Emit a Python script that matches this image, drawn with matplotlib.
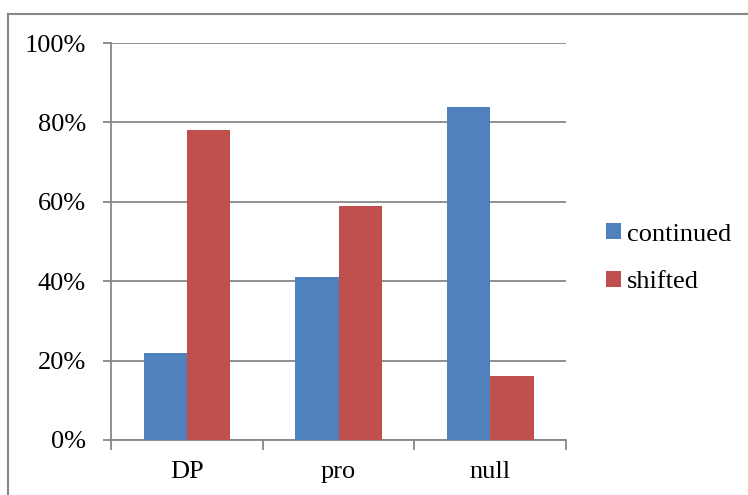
import matplotlib.pyplot as plt
import numpy as np
from matplotlib.lines import Line2D

categories = ["DP", "pro", "null"]
continued = [22, 41, 84]
shifted = [78, 59, 16]
yticks = [0, 20, 40, 60, 80, 100]
ytick_labels = ["0%", "20%", "40%", "60%", "80%", "100%"]

plt.rcParams['font.family'] = ['Liberation Serif', 'DejaVu Serif']

W, H = 748, 495
fig = plt.figure(figsize=(W / 100, H / 100), dpi=100)

# plot area in pixel coordinates
left, right, top, bottom = 111, 566, 43, 440
ax = fig.add_axes([left / W, 1 - bottom / H, (right - left) / W, (bottom - top) / H])

grey = '#878787'
fs = 19
x = np.arange(len(categories))
bw = 1 / 3.5
ax.bar(x - bw / 2, continued, bw, color='#4f81bd', label='continued', zorder=3)
ax.bar(x + bw / 2, shifted, bw, color='#c0504d', label='shifted', zorder=3)

ax.set_xlim(-0.5, len(categories) - 0.5)
ax.set_ylim(0, 100)
ax.set_yticks(yticks)
ax.set_yticklabels(ytick_labels, fontsize=fs)
ax.set_xticks(x)
ax.set_xticklabels(categories, fontsize=fs)
ax.set_xticks(np.arange(len(categories) + 1) - 0.5, minor=True)
ax.tick_params(axis='x', which='major', length=0, pad=15)
ax.tick_params(axis='x', which='minor', length=7, color=grey, width=1.3)
ax.tick_params(axis='y', length=6, color=grey, width=1.3, pad=12)
ax.grid(axis='y', color=grey, linewidth=1.3, zorder=0)

for side in ['top', 'right']:
    ax.spines[side].set_visible(False)
for side in ['left', 'bottom']:
    ax.spines[side].set_color(grey)
    ax.spines[side].set_linewidth(1.3)

ax.legend(loc='center left', bbox_to_anchor=(1.065, 0.458), frameon=False,
          fontsize=fs, handlelength=0.55, handleheight=0.55, handletextpad=0.25,
          labelspacing=0.95, borderaxespad=0)

# outer chart border (top and left edges)
fig.add_artist(Line2D([8 / W, 1], [1 - 14 / H, 1 - 14 / H], color=grey, linewidth=1.5))
fig.add_artist(Line2D([8 / W, 8 / W], [1 - 14 / H, 0], color=grey, linewidth=1.5))

fig.savefig('out.png', dpi=100)
